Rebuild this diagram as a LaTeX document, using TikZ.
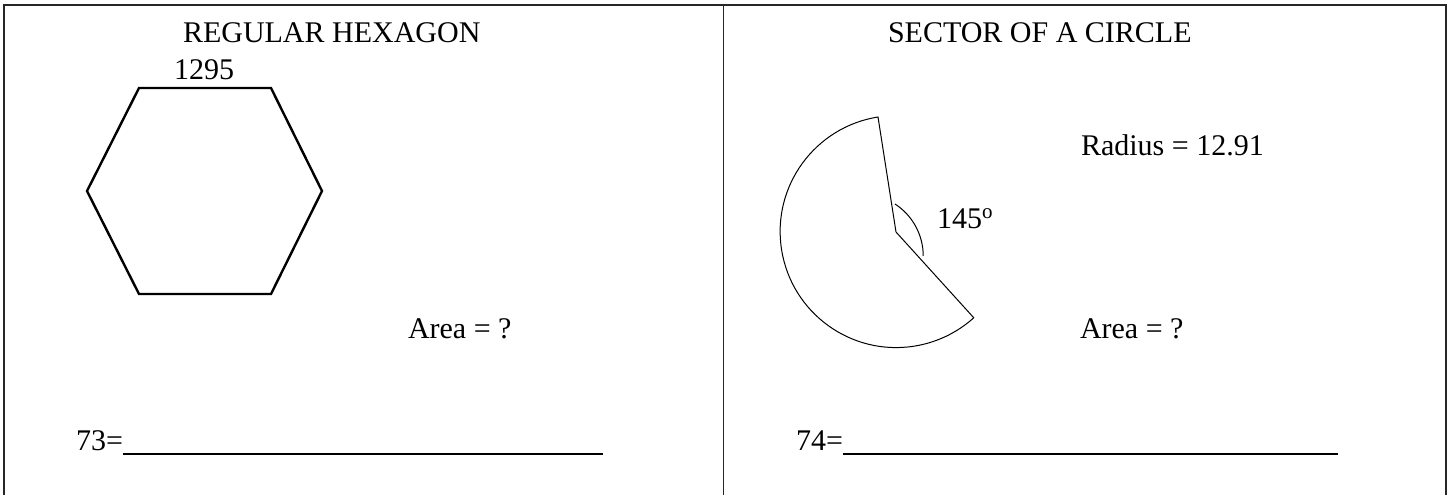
\documentclass[tikz,border=0pt]{standalone}
\usepackage{fontspec}
\setmainfont{Liberation Serif}
\begin{document}
\begin{tikzpicture}[x=1pt,y=-1pt,
  lbl/.style={inner sep=0pt, outer sep=0pt, anchor=base west, font=\fontsize{30}{36}\selectfont},
  frame/.style={line width=1.6pt, draw=black!85},
  hex/.style={line width=2.4pt, line join=miter},
  thin/.style={line width=1pt},
  answer/.style={line width=1.5pt}]
\useasboundingbox (0,0) rectangle (1449,495);
% frame
\coordinate (tl) at (4,5);
\coordinate (tm) at (723.5,5);
\coordinate (tr) at (1446,5);
\coordinate (bl) at (4,495);
\coordinate (bm) at (723.5,495);
\coordinate (br) at (1446,495);
\draw[frame] (bl) -- (tl) -- (tr) -- (br);
\draw[frame] (tm) -- (bm);
% titles
\node[lbl] (t1) at (183,43) {REGULAR HEXAGON};
\node[lbl] (t2) at (888,43) {SECTOR OF A CIRCLE};
% hexagon
\coordinate (h1) at (139,88);
\coordinate (h2) at (271,88);
\coordinate (h3) at (322,191);
\coordinate (h4) at (271,294);
\coordinate (h5) at (139,294);
\coordinate (h6) at (87,191);
\draw[hex] (h1) -- (h2) -- (h3) -- (h4) -- (h5) -- (h6) -- cycle;
\node[lbl] (side) at (174,80) {1295};
\node[lbl] (area1) at (408,338) {Area = ?};
% sector
\coordinate (O) at (896,232);
\coordinate (P) at (878,117);
\draw[thin, line join=miter] (O) -- (P) arc[start angle=261, end angle=48, radius=116] -- cycle;
\coordinate (A1) at (895,204);
\draw[thin] (A1) arc[start angle=-57, end angle=0, radius=62];
\node[lbl] (ang) at (937,228) {145\textsuperscript{o}};
\node[lbl] (rad) at (1081,155) {Radius = 12.91};
\node[lbl] (area2) at (1080,338) {Area = ?};
% answers
\node[lbl] (q73) at (76,450) {73=};
\coordinate (e73) at (603,454);
\draw[answer] (q73.base east) ++(0,4) -- (e73);
\node[lbl] (q74) at (796,450) {74=};
\coordinate (e74) at (1338,454);
\draw[answer] (q74.base east) ++(0,4) -- (e74);
\end{tikzpicture}
\end{document}
